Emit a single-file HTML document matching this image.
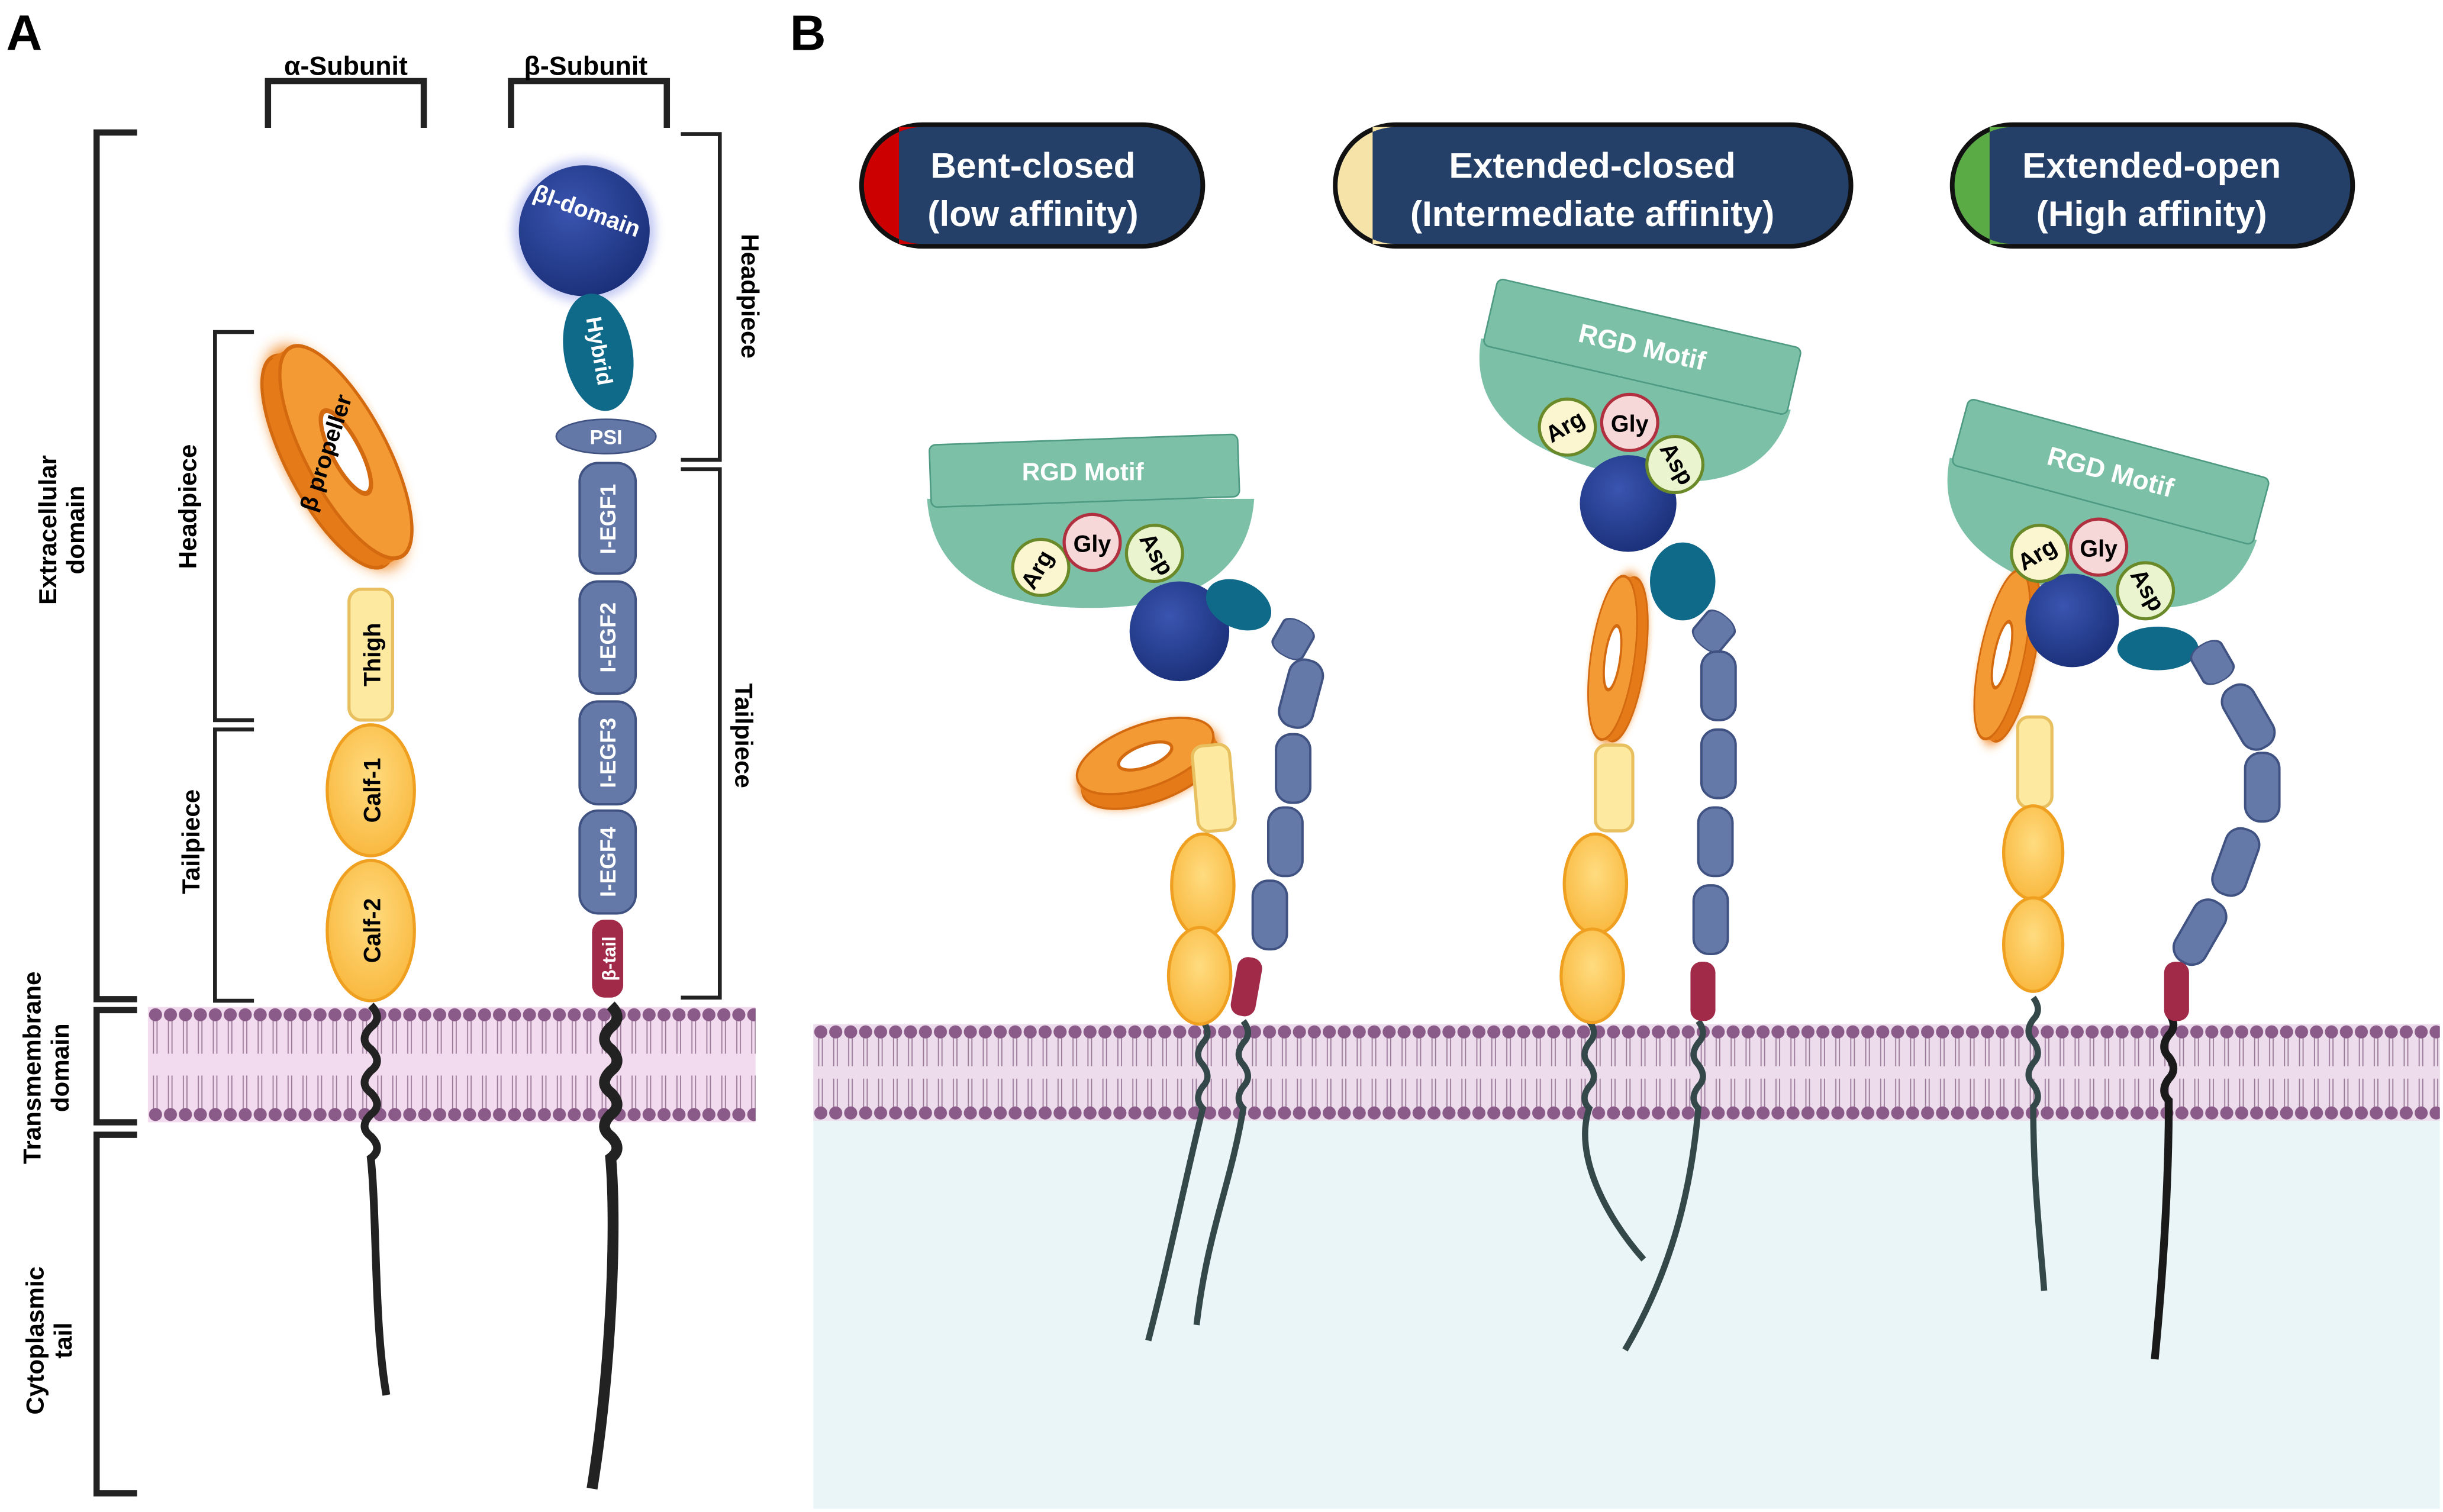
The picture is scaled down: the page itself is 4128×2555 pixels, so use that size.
<!DOCTYPE html>
<html><head><meta charset="utf-8"><style>html,body{margin:0;padding:0;background:#fff}svg{display:block}text{font-family:"Liberation Sans",Arial,sans-serif;font-weight:bold}</style></head><body>
<svg width="4128" height="2555" viewBox="0 0 1568 970" preserveAspectRatio="none" xmlns="http://www.w3.org/2000/svg">
<defs>
<pattern id="memA" patternUnits="userSpaceOnUse" x="95" y="646" width="9.6" height="74">
<rect width="9.6" height="74" fill="#f3dbef"/>
<line x1="3.5" y1="8" x2="3.5" y2="30" stroke="#9a7a98" stroke-width="0.7"/><line x1="5.8" y1="8" x2="5.8" y2="30" stroke="#9a7a98" stroke-width="0.7"/>
<line x1="3.5" y1="44" x2="3.5" y2="66" stroke="#9a7a98" stroke-width="0.7"/><line x1="5.8" y1="44" x2="5.8" y2="66" stroke="#9a7a98" stroke-width="0.7"/>
<circle cx="4.8" cy="5" r="4.2" fill="#8a5a88"/><circle cx="4.8" cy="69" r="4.2" fill="#8a5a88"/></pattern>
<pattern id="memB" patternUnits="userSpaceOnUse" x="522" y="657" width="9.6" height="62">
<rect width="9.6" height="62" fill="#ecdcec"/>
<line x1="3.5" y1="8" x2="3.5" y2="27" stroke="#9a7a98" stroke-width="0.7"/><line x1="5.8" y1="8" x2="5.8" y2="27" stroke="#9a7a98" stroke-width="0.7"/>
<line x1="3.5" y1="35" x2="3.5" y2="54" stroke="#9a7a98" stroke-width="0.7"/><line x1="5.8" y1="35" x2="5.8" y2="54" stroke="#9a7a98" stroke-width="0.7"/>
<circle cx="4.8" cy="5" r="4.2" fill="#8a5a88"/><circle cx="4.8" cy="57" r="4.2" fill="#8a5a88"/></pattern>
<radialGradient id="blue" cx="0.4" cy="0.35" r="0.7"><stop offset="0" stop-color="#3a55b0"/><stop offset="1" stop-color="#1a2f78"/></radialGradient>
<radialGradient id="calf" cx="0.5" cy="0.4" r="0.6"><stop offset="0" stop-color="#ffdc80"/><stop offset="1" stop-color="#f9b940"/></radialGradient>
<filter id="glow"><feGaussianBlur stdDeviation="3"/></filter>
<g id="prop"><ellipse cy="6" rx="48" ry="24" fill="#f08a25" filter="url(#glow)"/><ellipse cy="10" rx="46" ry="20" fill="#e57a18" stroke="#d46a10" stroke-width="1.5"/><rect x="-46" y="0" width="92" height="10" fill="#e57a18"/><ellipse rx="46" ry="20" fill="#f39a35" stroke="#d46a10" stroke-width="1.5"/><ellipse rx="18" ry="7" fill="#fff" stroke="#d46a10" stroke-width="2"/></g>
<g id="seg"><rect x="-11" y="-22" width="22" height="44" rx="10" fill="#6479a8" stroke="#3f5282" stroke-width="1.5"/></g>
</defs>

<text x="4" y="32" font-size="32">A</text>
<text x="507" y="32" font-size="32">B</text>

<g fill="none" stroke="#222" stroke-width="4">
<path d="M88 85 H62 V641 H88"/><path d="M88 648 H62 V720 H88"/><path d="M88 728 H62 V958 H88"/>
<path d="M172 82 V52 H272 V82"/><path d="M328 82 V52 H428 V82"/>
</g>
<g fill="none" stroke="#222" stroke-width="2.5">
<path d="M163 213 H138 V462 H163"/><path d="M163 468 H138 V642 H163"/>
<path d="M437 86 H462 V295 H437"/><path d="M437 301 H462 V640 H437"/>
</g>
<text x="222" y="48" font-size="17" text-anchor="middle">α-Subunit</text>
<text x="376" y="48" font-size="17" text-anchor="middle">β-Subunit</text>
<g font-size="16" text-anchor="middle">
<text transform="translate(36,340) rotate(-90)">Extracellular</text><text transform="translate(54,340) rotate(-90)">domain</text>
<text transform="translate(26,685) rotate(-90)">Transmembrane</text><text transform="translate(44,685) rotate(-90)">domain</text>
<text transform="translate(28,860) rotate(-90)">Cytoplasmic</text><text transform="translate(46,860) rotate(-90)">tail</text>
<text transform="translate(126,325) rotate(-90)">Headpiece</text>
<text transform="translate(128,540) rotate(-90)">Tailpiece</text>
<text transform="translate(476,190) rotate(90)">Headpiece</text>
<text transform="translate(472,472) rotate(90)">Tailpiece</text>
</g>

<rect x="95" y="646" width="390" height="74" fill="url(#memA)"/>

<path d="M238 645 q8 8 0 14 q-8 8 0 14 q8 8 0 14 q-8 8 0 14 q8 8 0 14 q-8 8 0 14 q8 8 0 14 C242 780 240 850 248 895" fill="none" stroke="#222" stroke-width="5"/>
<g transform="translate(222,290) rotate(62)"><use href="#prop" transform="scale(1.65,1.3)"/></g>
<text transform="translate(214,292) rotate(-72)" font-size="15" text-anchor="middle">β propeller</text>
<rect x="224" y="378" width="28" height="84" rx="8" fill="#fde9a0" stroke="#e8c060" stroke-width="2"/>
<text transform="translate(244,420) rotate(-90)" font-size="15" text-anchor="middle">Thigh</text>
<ellipse cx="238" cy="507" rx="28" ry="42" fill="url(#calf)" stroke="#f0a020" stroke-width="2"/>
<ellipse cx="238" cy="597" rx="28" ry="45" fill="url(#calf)" stroke="#f0a020" stroke-width="2"/>
<text transform="translate(244,507) rotate(-90)" font-size="15" text-anchor="middle">Calf-1</text>
<text transform="translate(244,597) rotate(-90)" font-size="15" text-anchor="middle">Calf-2</text>

<path d="M392 645 q8 8 0 14 q-8 8 0 14 q8 8 0 14 q-8 8 0 14 q8 8 0 14 q-8 8 0 14 q8 8 0 14 C396 790 392 880 380 955" fill="none" stroke="#222" stroke-width="7"/>
<circle cx="375" cy="148" r="46" fill="#6070e0" opacity="0.35" filter="url(#glow)"/>
<circle cx="375" cy="148" r="42" fill="url(#blue)"/>
<text x="375" y="140" font-size="15" fill="#fff" text-anchor="middle" transform="rotate(20 375 140)" font-weight="normal">βI-domain</text>
<ellipse cx="384" cy="226" rx="22" ry="38" fill="#0f6a8a" transform="rotate(-10 384 226)"/>
<text transform="translate(380,226) rotate(80)" font-size="14" fill="#fff" text-anchor="middle" font-weight="normal">Hybrid</text>
<ellipse cx="389" cy="280" rx="32" ry="11" fill="#6478a8" stroke="#3f5282"/>
<text x="389" y="285" font-size="13" fill="#fff" text-anchor="middle" font-weight="normal">PSI</text>
<g fill="#6479a8" stroke="#3f5282" stroke-width="1.5">
<rect x="372" y="297" width="36" height="71" rx="12"/><rect x="372" y="373" width="36" height="72" rx="12"/>
<rect x="372" y="450" width="36" height="66" rx="12"/><rect x="372" y="520" width="36" height="66" rx="12"/>
</g>
<rect x="380" y="590" width="20" height="50" rx="8" fill="#a02a48"/>
<g font-size="14" fill="#fff" text-anchor="middle" font-weight="normal">
<text transform="translate(395,333) rotate(-90)">I-EGF1</text><text transform="translate(395,409) rotate(-90)">I-EGF2</text>
<text transform="translate(395,483) rotate(-90)">I-EGF3</text><text transform="translate(395,553) rotate(-90)">I-EGF4</text>
<text transform="translate(395,615) rotate(-90)" font-size="12">β-tail</text></g>

<rect x="522" y="657" width="1044" height="311" fill="#eaf5f8"/>
<rect x="522" y="657" width="1044" height="62" fill="url(#memB)"/>

<g font-size="23" fill="#fff" text-anchor="middle">
<rect x="553" y="80" width="219" height="78" rx="39" fill="#243f68" stroke="#111" stroke-width="3"/>
<path d="M592 81.5 A37.5 37.5 0 0 0 592 156.5 H577 V81.5Z" fill="#c00"/>
<text x="663" y="114">Bent-closed</text><text x="663" y="145">(low affinity)</text>
<rect x="857" y="80" width="331" height="78" rx="39" fill="#243f68" stroke="#111" stroke-width="3"/>
<path d="M896 81.5 A37.5 37.5 0 0 0 896 156.5 H881 V81.5Z" fill="#f5e3a8"/>
<text x="1022" y="114">Extended-closed</text><text x="1022" y="145">(Intermediate affinity)</text>
<rect x="1253" y="80" width="257" height="78" rx="39" fill="#243f68" stroke="#111" stroke-width="3"/>
<path d="M1292 81.5 A37.5 37.5 0 0 0 1292 156.5 H1277 V81.5Z" fill="#5aaa45"/>
<text x="1381" y="114">Extended-open</text><text x="1381" y="145">(High affinity)</text>
</g>

<g fill="none" stroke="#34484a" stroke-width="4">
<path d="M772 655 q6 8 0 14 q-6 8 0 14 q6 8 0 14 q-6 8 0 14 C760 760 750 810 737 860"/>
<path d="M798 655 q6 8 0 14 q-6 8 0 14 q6 8 0 14 q-6 8 0 14 C790 760 775 790 768 850"/>
</g>
<path d="M595 320 H805 Q800 390 700 390 Q600 390 595 320Z" fill="#7cc0a8"/>
<rect x="597" y="282" width="198" height="40" rx="4" fill="#7cc0a8" stroke="#4e9a82" transform="rotate(-2 696 302)"/>
<text x="695" y="308" font-size="16" fill="#fff" text-anchor="middle">RGD Motif</text>
<circle cx="757" cy="405" r="32" fill="url(#blue)"/>
<ellipse cx="795" cy="388" rx="22" ry="15" fill="#0f6a8a" transform="rotate(25 795 388)"/>
<g transform="translate(830,410) rotate(30)"><use href="#seg" transform="scale(1,0.55)"/></g>
<use href="#seg" x="835" y="445" transform="rotate(15 835 445)"/>
<use href="#seg" x="830" y="493"/><use href="#seg" x="825" y="540"/><use href="#seg" x="815" y="587"/>
<rect x="792" y="614" width="16" height="38" rx="7" fill="#a02a48" transform="rotate(10 800 633)"/>
<g transform="translate(735,485) rotate(-20)"><use href="#prop"/></g>
<rect x="767" y="478" width="24" height="55" rx="7" fill="#fde9a0" stroke="#e8c060" stroke-width="2" transform="rotate(-5 779 505)"/>
<ellipse cx="772" cy="568" rx="20" ry="33" fill="url(#calf)" stroke="#f0a020" stroke-width="2"/>
<ellipse cx="770" cy="626" rx="20" ry="31" fill="url(#calf)" stroke="#f0a020" stroke-width="2"/>
<g font-size="15" text-anchor="middle">
<circle cx="668" cy="364" r="18" fill="#fbf6d0" stroke="#6a8a2a" stroke-width="2"/><text transform="translate(670,368) rotate(-60)">Arg</text>
<circle cx="701" cy="348" r="18" fill="#f7d8d8" stroke="#b03040" stroke-width="2"/><text x="701" y="354">Gly</text>
<circle cx="741" cy="355" r="18" fill="#eaf5d0" stroke="#6a8a2a" stroke-width="2"/><text transform="translate(738,358) rotate(60)">Asp</text>
</g>

<g fill="none" stroke="#34484a" stroke-width="4">
<path d="M1020 655 q6 8 0 14 q-6 8 0 14 q6 8 0 14 q-6 8 0 14 C1010 740 1030 780 1055 808"/>
<path d="M1090 655 q6 8 0 14 q-6 8 0 14 q6 8 0 14 q-6 8 0 14 C1085 770 1070 820 1043 866"/>
</g>
<g transform="rotate(13 1050 240)">
<path d="M948 240 H1152 Q1148 305 1050 305 Q952 305 948 240Z" fill="#7cc0a8"/>
<rect x="950" y="200" width="200" height="44" rx="4" fill="#7cc0a8" stroke="#4e9a82"/>
<text x="1050" y="228" font-size="17" fill="#fff" text-anchor="middle">RGD Motif</text>
</g>
<circle cx="1045" cy="323" r="31" fill="url(#blue)"/>
<ellipse cx="1080" cy="373" rx="21" ry="25" fill="#0f6a8a"/>
<g transform="translate(1100,405) rotate(40)"><use href="#seg" transform="scale(1,0.55)"/></g>
<use href="#seg" x="1103" y="440"/><use href="#seg" x="1103" y="490"/><use href="#seg" x="1101" y="540"/><use href="#seg" x="1098" y="590"/>
<rect x="1085" y="617" width="16" height="38" rx="7" fill="#a02a48"/>
<g transform="translate(1035,422) rotate(-82)"><use href="#prop" transform="scale(1.15,0.7)"/></g>
<rect x="1024" y="478" width="24" height="55" rx="7" fill="#fde9a0" stroke="#e8c060" stroke-width="2"/>
<ellipse cx="1024" cy="567" rx="20" ry="32" fill="url(#calf)" stroke="#f0a020" stroke-width="2"/>
<ellipse cx="1022" cy="626" rx="20" ry="30" fill="url(#calf)" stroke="#f0a020" stroke-width="2"/>
<g font-size="15" text-anchor="middle">
<circle cx="1006" cy="274" r="18" fill="#fbf6d0" stroke="#6a8a2a" stroke-width="2"/><text transform="translate(1007,278) rotate(-30)">Arg</text>
<circle cx="1046" cy="271" r="18" fill="#f7d8d8" stroke="#b03040" stroke-width="2"/><text x="1046" y="277">Gly</text>
<circle cx="1075" cy="298" r="18" fill="#eaf5d0" stroke="#6a8a2a" stroke-width="2"/><text transform="translate(1072,300) rotate(60)">Asp</text>
</g>

<g fill="none" stroke="#34484a" stroke-width="4">
<path d="M1305 640 q6 8 0 14 q-6 8 0 14 q6 8 0 14 q-6 8 0 14 q6 8 0 14 C1305 760 1310 800 1312 828"/>
</g>
<path d="M1392 650 q6 8 0 14 q-6 8 0 14 q6 8 0 14 q-6 8 0 14 C1392 760 1388 820 1383 872" fill="none" stroke="#1a1a1a" stroke-width="5"/>
<g transform="rotate(15 1350 320)">
<path d="M1248 320 H1452 Q1448 385 1350 385 Q1252 385 1248 320Z" fill="#7cc0a8"/>
<rect x="1250" y="280" width="200" height="44" rx="4" fill="#7cc0a8" stroke="#4e9a82"/>
<text x="1350" y="308" font-size="17" fill="#fff" text-anchor="middle">RGD Motif</text>
</g>
<g transform="translate(1285,420) rotate(-78)"><use href="#prop" transform="scale(1.2,0.7)"/></g>
<circle cx="1330" cy="398" r="30" fill="url(#blue)"/>
<ellipse cx="1385" cy="416" rx="26" ry="14" fill="#0f6a8a"/>
<g transform="translate(1420,425) rotate(-30)"><use href="#seg" transform="scale(1,0.6)"/></g>
<use href="#seg" x="1443" y="460" transform="rotate(-30 1443 460)"/>
<use href="#seg" x="1452" y="505"/><use href="#seg" x="1435" y="553" transform="rotate(20 1435 553)"/><use href="#seg" x="1412" y="598" transform="rotate(30 1412 598)"/>
<rect x="1389" y="617" width="16" height="38" rx="7" fill="#a02a48"/>
<rect x="1295" y="460" width="22" height="58" rx="7" fill="#fde9a0" stroke="#e8c060" stroke-width="2"/>
<ellipse cx="1305" cy="547" rx="19" ry="30" fill="url(#calf)" stroke="#f0a020" stroke-width="2"/>
<ellipse cx="1305" cy="606" rx="19" ry="30" fill="url(#calf)" stroke="#f0a020" stroke-width="2"/>
<g font-size="15" text-anchor="middle">
<circle cx="1309" cy="355" r="18" fill="#fbf6d0" stroke="#6a8a2a" stroke-width="2"/><text transform="translate(1310,360) rotate(-30)">Arg</text>
<circle cx="1347" cy="351" r="18" fill="#f7d8d8" stroke="#b03040" stroke-width="2"/><text x="1347" y="357">Gly</text>
<circle cx="1377" cy="379" r="18" fill="#eaf5d0" stroke="#6a8a2a" stroke-width="2"/><text transform="translate(1374,381) rotate(60)">Asp</text>
</g>
</svg>
</body></html>
